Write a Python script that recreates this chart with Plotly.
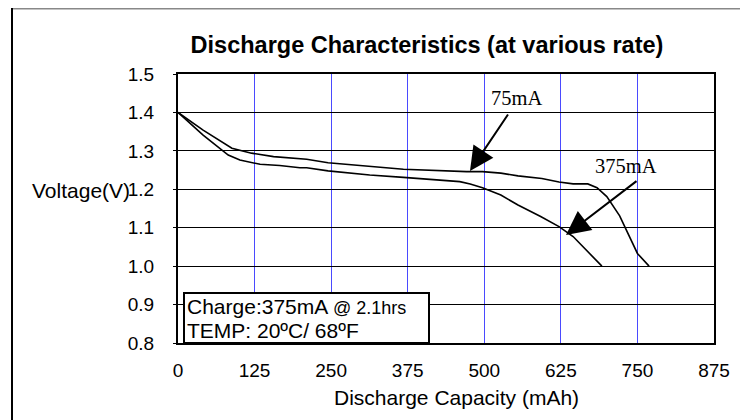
import plotly.graph_objects as go

# 75mA discharge curve
cap_75 = [0, 41, 88, 120, 156, 194, 210, 245, 313, 368, 471, 497, 527, 555,
          594, 622, 645, 669, 684, 700, 721, 734, 750, 769]
volt_75 = [1.400, 1.354, 1.307, 1.294, 1.285, 1.279, 1.278, 1.269, 1.259, 1.252,
           1.246, 1.246, 1.242, 1.235, 1.228, 1.219, 1.214, 1.214, 1.204, 1.181,
           1.131, 1.085, 1.033, 1.000]

# 375mA discharge curve
cap_375 = [0, 41, 82, 101, 134, 166, 199, 210, 245, 313, 368, 460, 477, 497,
           527, 555, 592, 622, 645, 667, 692]
volt_375 = [1.400, 1.341, 1.289, 1.276, 1.265, 1.262, 1.256, 1.256, 1.248, 1.237,
            1.231, 1.220, 1.214, 1.204, 1.185, 1.159, 1.129, 1.103, 1.077, 1.042,
            1.000]

x_ticks = [0, 125, 250, 375, 500, 625, 750, 875]
y_ticks = [0.8, 0.9, 1.0, 1.1, 1.2, 1.3, 1.4, 1.5]

OFF = 8  # page body margin
W, H = 740, 412
L, R, T, B = 170, 34, 66, 77
PW, PH = W - L - R, H - T - B


def px(sx):
    return (sx - OFF - L) / PW


def py(sy):
    return (H - B - (sy - OFF)) / PH


def dx(sx):
    return (sx - OFF - L) / PW * 875


def dy(sy):
    return 1.5 - (sy - OFF - T) / PH * 0.7


fig = go.Figure()
fig.add_trace(go.Scatter(x=cap_75, y=volt_75, mode="lines",
                         line=dict(color="black", width=1.6), showlegend=False))
fig.add_trace(go.Scatter(x=cap_375, y=volt_375, mode="lines",
                         line=dict(color="black", width=1.6), showlegend=False))

font = "Liberation Sans, Arial, sans-serif"
serif = "Liberation Serif, Times New Roman, serif"

fig.update_layout(
    width=W, height=H,
    margin=dict(l=L, r=R, t=T, b=B),
    paper_bgcolor="white", plot_bgcolor="white",
    title=dict(text="<b>Discharge Characteristics (at various rate)</b>",
               x=(427 - OFF) / W, xanchor="center", y=1 - (45 - OFF) / H,
               yanchor="middle",
               font=dict(family=font, size=23.5, color="black")),
    xaxis=dict(range=[0, 875], tickvals=x_ticks, ticktext=[str(v) for v in x_ticks],
               showgrid=True, gridcolor="#4a4aff", gridwidth=1,
               showline=True, linecolor="black", linewidth=2, mirror=True,
               zeroline=False, ticks="", ticklabelstandoff=9,
               tickfont=dict(family=font, size=19, color="black")),
    yaxis=dict(range=[0.8, 1.5], tickvals=y_ticks,
               ticktext=["%.1f" % v for v in y_ticks],
               showgrid=True, gridcolor="black", gridwidth=1,
               showline=True, linecolor="black", linewidth=2, mirror=True,
               zeroline=False, ticks="outside", ticklen=3, tickcolor="black",
               ticklabelstandoff=15,
               tickfont=dict(family=font, size=19, color="black")),
)

shapes = [
    # outer frame
    dict(type="line", xref="paper", yref="paper", x0=px(12), x1=px(742),
         y0=py(8.5), y1=py(8.5), line=dict(color="#888888", width=2)),
    dict(type="line", xref="paper", yref="paper", x0=px(12), x1=px(12),
         y0=py(8), y1=py(440), line=dict(color="black", width=2)),
    dict(type="line", xref="paper", yref="paper", x0=px(742), x1=px(742),
         y0=py(8), y1=py(440), line=dict(color="black", width=2)),
    # info box
    dict(type="rect", xref="paper", yref="paper", x0=px(184), x1=px(429),
         y0=py(343), y1=py(293), fillcolor="white",
         line=dict(color="black", width=2), layer="above"),
]
fig.update_layout(shapes=shapes)

ann = [
    dict(xref="paper", yref="paper", x=px(30), y=py(190), xanchor="left",
         yanchor="middle", text="Voltage(V)", showarrow=False,
         font=dict(family=font, size=21, color="black")),
    dict(xref="paper", yref="paper", x=px(456), y=py(398), xanchor="center",
         yanchor="middle", text="Discharge Capacity (mAh)", showarrow=False,
         font=dict(family=font, size=21, color="black")),
    dict(xref="paper", yref="paper", x=px(185), y=py(306), xanchor="left",
         yanchor="middle", align="left", showarrow=False,
         text="Charge:375mA <span style='font-size:18px'>@ 2.1hrs</span>",
         font=dict(family=font, size=21, color="black")),
    dict(xref="paper", yref="paper", x=px(185), y=py(330), xanchor="left",
         yanchor="middle", align="left", showarrow=False,
         text="TEMP: 20ºC/ 68ºF",
         font=dict(family=font, size=21, color="black")),
    dict(x=dx(516), y=dy(98), xref="x", yref="y", text="75mA",
         showarrow=False, font=dict(family=serif, size=20.5, color="black")),
    dict(x=dx(626), y=dy(166), xref="x", yref="y", text="375mA",
         showarrow=False, font=dict(family=serif, size=20.5, color="black")),
]

# arrows (tail -> head, screen coords)
for (tx, ty, hx, hy) in [(509, 113, 470, 171), (638, 180, 566, 235)]:
    ann.append(dict(x=dx(hx), y=dy(hy), ax=dx(tx), ay=dy(ty), xref="x", yref="y",
                    axref="x", ayref="y", text="", showarrow=True,
                    arrowhead=2, arrowsize=2.4, arrowwidth=2, arrowcolor="black"))

fig.update_layout(annotations=ann)
fig.write_html("out.html")
